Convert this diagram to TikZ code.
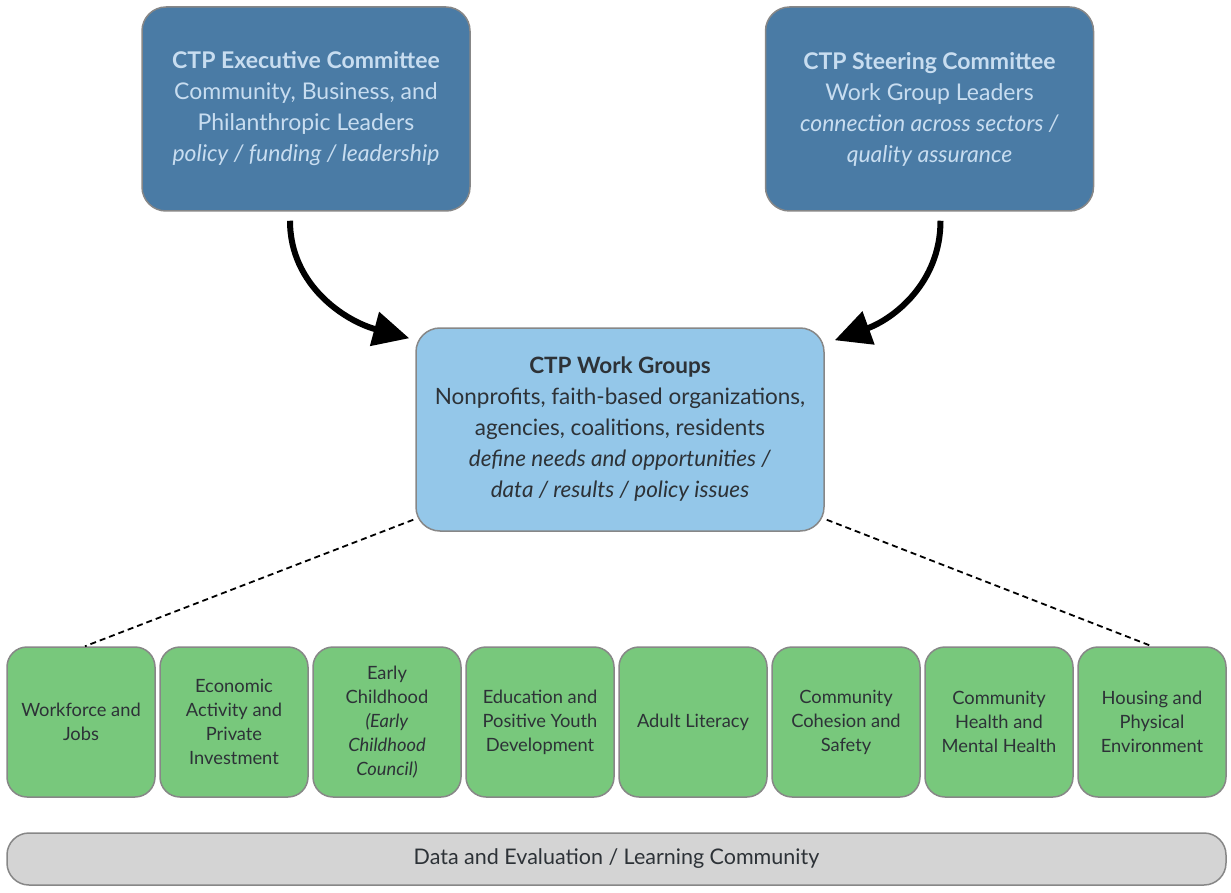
\documentclass[tikz,border=0pt]{standalone}
\usepackage{fontspec}
\setmainfont{Lato}
\usepackage{xcolor}
\usetikzlibrary{arrows.meta}

\definecolor{execblue}{RGB}{74,123,165}
\definecolor{paleblue}{RGB}{200,221,240}
\definecolor{wgblue}{RGB}{148,199,233}
\definecolor{areagreen}{RGB}{120,200,124}
\definecolor{bargray}{RGB}{212,212,212}
\definecolor{boxline}{RGB}{135,135,135}
\definecolor{darktext}{RGB}{45,50,55}

\begin{document}
\begin{tikzpicture}[x=1pt,y=-1pt,
  topbox/.style={draw=boxline, line width=1.5pt, fill=execblue, rounded corners=24pt,
    minimum width=328pt, minimum height=204pt, text=paleblue, align=center,
    font=\fontsize{23}{31}\selectfont},
  wgbox/.style={draw=boxline, line width=1.5pt, fill=wgblue, rounded corners=24pt,
    minimum width=408pt, minimum height=203pt, text=darktext, align=center,
    font=\fontsize{22.5}{31}\selectfont},
  areabox/.style={draw=boxline, line width=1.5pt, fill=areagreen, rounded corners=20pt,
    minimum width=148pt, minimum height=150pt, text=darktext, align=center,
    font=\fontsize{18.3}{24}\selectfont},
  databar/.style={draw=boxline, line width=1.5pt, fill=bargray, rounded corners=22pt,
    minimum width=1219pt, minimum height=52pt, text=darktext,
    font=\fontsize{21.5}{24}\selectfont},
  feed/.style={line width=6pt, -{Triangle[length=36pt,width=34pt]}},
  dashlink/.style={line width=1.8pt, dash pattern=on 6pt off 4pt}]

\useasboundingbox (0,0) rectangle (1231,893);

% Committees on top
\node[topbox] (exec) at (306,109) {\textbf{CTP Executive Committee}\\
Community, Business, and\\
Philanthropic Leaders\\
\textit{policy / funding / leadership}};
\node[topbox] (steer) at (929.5,109) {\textbf{CTP Steering Committee}\\
Work Group Leaders\\
\textit{connection across sectors /}\\
\textit{quality assurance}};

% Work groups in the middle
\node[wgbox] (wg) at (620,429.5) {\textbf{CTP Work Groups}\\
Nonprofits, faith-based organizations,\\
agencies, coalitions, residents\\
\textit{define needs and opportunities /}\\
\textit{data / results / policy issues}};

% Arrows into the work groups
\draw[feed] ([xshift=-16pt,yshift=-9pt]exec.south) to[out=-90,in=165] ([xshift=-6pt,yshift=-11pt]wg.north west);
\draw[feed] ([xshift=11pt,yshift=-9pt]steer.south) to[out=-90,in=20] ([xshift=10pt,yshift=-13pt]wg.north east);

% Focus areas
\foreach \i/\x/\txt in {1/81/{Workforce and\\Jobs},
  2/234/{Economic\\Activity and\\Private\\Investment},
  3/387/{Early\\Childhood\\\textit{(Early}\\\textit{Childhood}\\\textit{Council)}},
  4/540/{Education and\\Positive Youth\\Development},
  5/693/{Adult Literacy},
  6/846/{Community\\Cohesion and\\Safety},
  7/999/{Community\\Health and\\Mental Health},
  8/1152/{Housing and\\Physical\\Environment}}
  \node[areabox] (area\i) at (\x,722) {\txt};

% Dashed links down to the focus areas
\draw[dashlink] ([xshift=-2pt,yshift=12pt]wg.south west) -- ([xshift=4pt]area1.north);
\draw[dashlink] ([xshift=2pt,yshift=12pt]wg.south east) -- (area8.north);

% Bottom bar
\node[databar] (data) at (616.5,859) {Data and Evaluation / Learning Community};
\end{tikzpicture}
\end{document}
